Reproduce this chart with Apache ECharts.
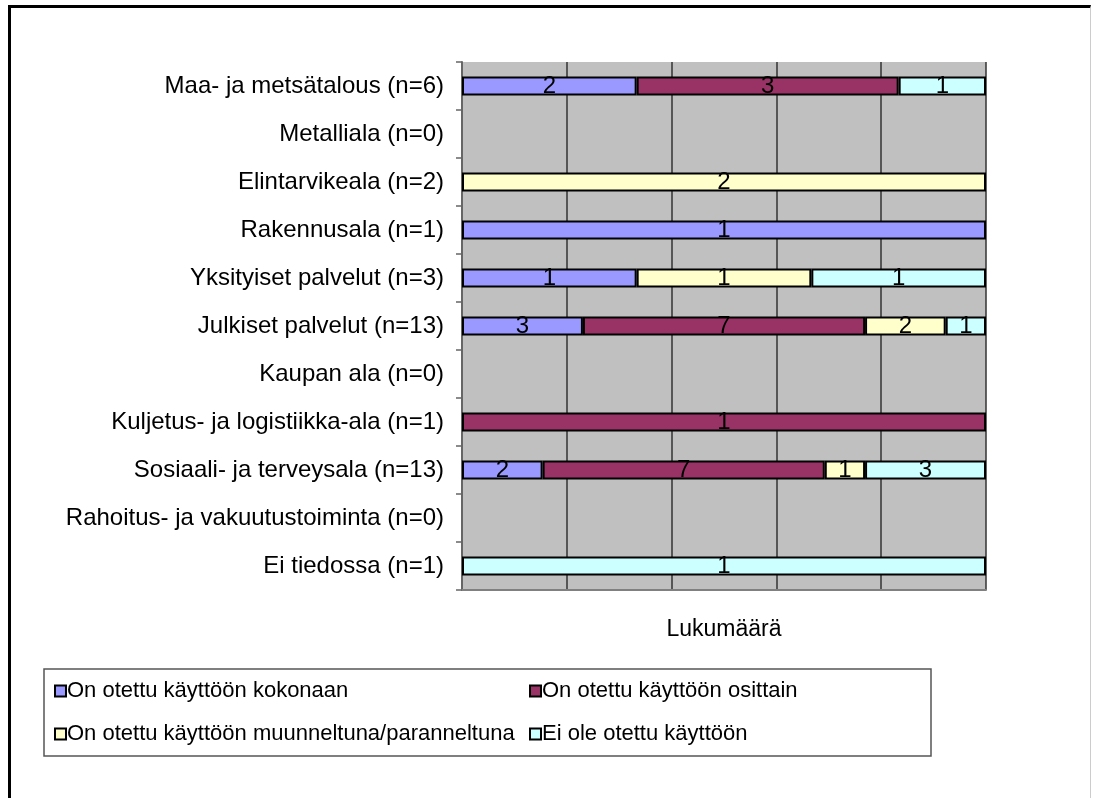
<!DOCTYPE html>
<html>
<head>
<meta charset="utf-8">
<style>
  html, body { margin: 0; padding: 0; background: #fff; }
  #frame { position: absolute; left: 8px; top: 5px; width: 1079px; height: 800px;
    border-top: 3px solid #000; border-left: 3px solid #000; border-right: 1px solid #ccc; }
  #chart { position: absolute; left: 0; top: 0; width: 1098px; height: 798px; }
</style>
<script src="https://cdn.jsdelivr.net/npm/echarts@6/dist/echarts.min.js"></script>
</head>
<body>
<div id="frame"></div>
<div id="chart"></div>
<script>
// toimialat (ylhäältä alas)
const categories = [
  'Maa- ja metsätalous (n=6)', 'Metalliala (n=0)', 'Elintarvikeala (n=2)', 'Rakennusala (n=1)',
  'Yksityiset palvelut (n=3)', 'Julkiset palvelut (n=13)', 'Kaupan ala (n=0)',
  'Kuljetus- ja logistiikka-ala (n=1)', 'Sosiaali- ja terveysala (n=13)',
  'Rahoitus- ja vakuutustoiminta (n=0)', 'Ei tiedossa (n=1)'
];
const seriesNames = [
  'On otettu käyttöön kokonaan', 'On otettu käyttöön osittain',
  'On otettu käyttöön muunneltuna/paranneltuna', 'Ei ole otettu käyttöön'
];
// lukumäärät
const kokonaan   = [2, 0, 0, 1, 1, 3, 0, 0, 2, 0, 0];
const osittain   = [3, 0, 0, 0, 0, 7, 0, 1, 7, 0, 0];
const muunneltu  = [0, 0, 2, 0, 1, 2, 0, 0, 1, 0, 0];
const eiKaytossa = [1, 0, 0, 0, 1, 1, 0, 0, 3, 0, 1];
const colors = ['#9999FF', '#993366', '#FFFFCC', '#CCFFFF'];

const counts = [kokonaan, osittain, muunneltu, eiKaytossa];
const totals = categories.map((_, i) => counts.reduce((a, c) => a + c[i], 0));
const FONT = '"Liberation Sans", Arial, sans-serif';

const chart = echarts.init(document.getElementById('chart'));
chart.setOption({
  animation: false,
  textStyle: { fontFamily: FONT },
  grid: { left: 462, right: 112, top: 62, bottom: 208, backgroundColor: '#C0C0C0', show: true, borderWidth: 0 },
  xAxis: {
    type: 'value', min: 0, max: 100, interval: 20,
    name: 'Lukumäärä', nameLocation: 'middle', nameGap: 28,
    nameTextStyle: { fontSize: 23, color: '#000', fontFamily: FONT, verticalAlign: 'top' },
    axisLabel: { show: false }, axisTick: { show: false },
    axisLine: { show: true, lineStyle: { color: '#808080', width: 2 } },
    splitLine: { show: true, lineStyle: { color: '#333', width: 1.5 } }
  },
  yAxis: {
    type: 'category', data: categories, inverse: true,
    axisLine: { show: true, lineStyle: { color: '#666', width: 2 } },
    axisTick: { show: true, length: 6, lineStyle: { color: '#666', width: 1.5 } },
    axisLabel: { fontSize: 24, color: '#000', margin: 18, fontFamily: FONT }
  },
  legend: seriesNames.map((n, k) => ({
    data: [n], left: k % 2 ? 524 : 49, top: k < 2 ? 675 : 718,
    itemWidth: 11, itemHeight: 11, icon: 'rect', itemGap: 4,
    textStyle: { fontSize: 22, color: '#000', fontFamily: FONT, padding: [0, 0, 0, -4] }
  })),
  graphic: [{ type: 'rect', shape: { x: 44, y: 669, width: 887, height: 87 },
    style: { fill: 'none', stroke: '#555', lineWidth: 1.5 }, silent: true }],
  series: counts.map((arr, k) => ({
    name: seriesNames[k], type: 'bar', stack: 'all', barWidth: 19,
    data: arr.map((v, i) => (totals[i] && v ? v / totals[i] * 100 : null)),
    itemStyle: { color: colors[k], borderColor: '#000', borderWidth: 2 },
    label: {
      show: true, position: 'inside', fontSize: 24, color: '#000', fontFamily: FONT,
      formatter: p => arr[p.dataIndex]
    }
  }))
});
</script>
</body>
</html>
